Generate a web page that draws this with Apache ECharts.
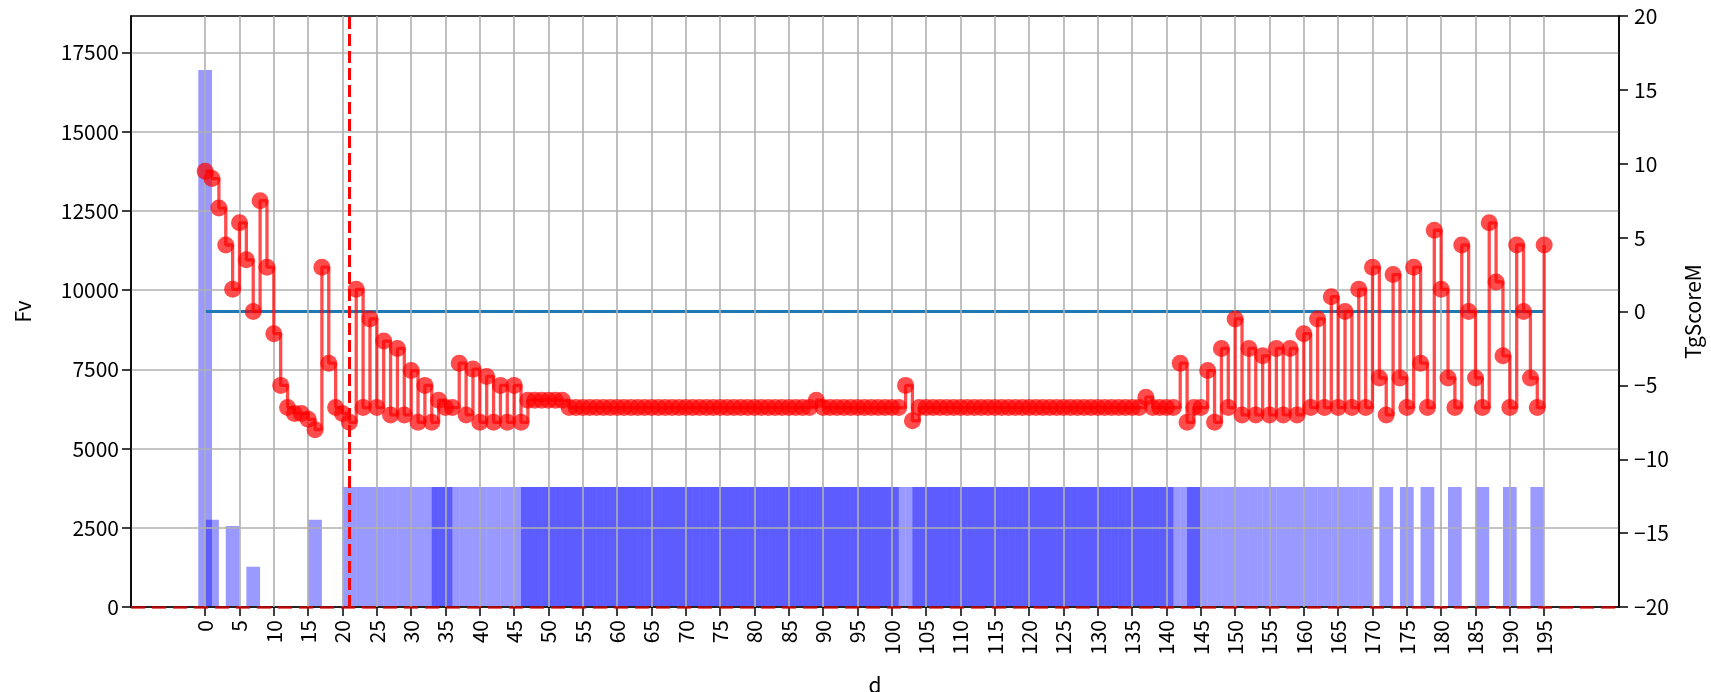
<!DOCTYPE html>
<html>
<head>
<meta charset="utf-8">
<script src="https://cdn.jsdelivr.net/npm/echarts@6/dist/echarts.min.js"></script>
<style>
  html, body { margin: 0; padding: 0; background: #fff; }
  #chart { width: 1711px; height: 692px; }
</style>
</head>
<body>
<div id="chart"></div>
<script>
/* -------------------------------------------------------------------------- */
/*                         Fv bars + TgScoreM step line                       */
/* -------------------------------------------------------------------------- */

// TgScoreM per day d (d = array index, 0..195)
const tgScore = [
  9.5, 9.0, 7.0, 4.5, 1.5, 6.0, 3.5, 0.0, 7.5, 3.0,
  -1.5, -5.0, -6.5, -6.9, -6.9, -7.3, -8.0, 3.0, -3.5, -6.5,
  -6.9, -7.5, 1.5, -6.5, -0.5, -6.5, -2.0, -7.0, -2.5, -7.0,
  -4.0, -7.5, -5.0, -7.5, -6.0, -6.5, -6.5, -3.5, -7.0, -3.9,
  -7.5, -4.4, -7.5, -5.0, -7.5, -5.0, -7.5, -6.0, -6.0, -6.0,
  -6.0, -6.0, -6.0, -6.5, -6.5, -6.5, -6.5, -6.5, -6.5, -6.5,
  -6.5, -6.5, -6.5, -6.5, -6.5, -6.5, -6.5, -6.5, -6.5, -6.5,
  -6.5, -6.5, -6.5, -6.5, -6.5, -6.5, -6.5, -6.5, -6.5, -6.5,
  -6.5, -6.5, -6.5, -6.5, -6.5, -6.5, -6.5, -6.5, -6.5, -6.0,
  -6.5, -6.5, -6.5, -6.5, -6.5, -6.5, -6.5, -6.5, -6.5, -6.5,
  -6.5, -6.5, -5.0, -7.4, -6.5, -6.5, -6.5, -6.5, -6.5, -6.5,
  -6.5, -6.5, -6.5, -6.5, -6.5, -6.5, -6.5, -6.5, -6.5, -6.5,
  -6.5, -6.5, -6.5, -6.5, -6.5, -6.5, -6.5, -6.5, -6.5, -6.5,
  -6.5, -6.5, -6.5, -6.5, -6.5, -6.5, -6.5, -5.8, -6.5, -6.5,
  -6.5, -6.5, -3.5, -7.5, -6.5, -6.5, -4.0, -7.5, -2.5, -6.5,
  -0.5, -7.0, -2.5, -7.0, -3.0, -7.0, -2.5, -7.0, -2.5, -7.0,
  -1.5, -6.5, -0.5, -6.5, 1.0, -6.5, 0.0, -6.5, 1.5, -6.5,
  3.0, -4.5, -7.0, 2.5, -4.5, -6.5, 3.0, -3.5, -6.5, 5.5,
  1.5, -4.5, -6.5, 4.5, 0.0, -4.5, -6.5, 6.0, 2.0, -3.0,
  -6.5, 4.5, 0.0, -4.5, -6.5, 4.5
];

// Fv bars: isolated ones with their own height
const spikeDays = [0, 1, 4, 7, 16];
const spikeFv = [16945, 2750, 2560, 1270, 2750];

// Fv bars of equal height in the long block
const blockDays = [
  21, 23, 25, 27, 29, 31, 33, 34, 35, 36, 38, 40, 42, 44,
  46, 47, 48, 49, 50, 51, 52, 53, 54, 55, 56, 57, 58, 59, 60, 61, 62, 63, 64, 65,
  66, 67, 68, 69, 70, 71, 72, 73, 74, 75, 76, 77, 78, 79, 80, 81, 82, 83, 84, 85,
  86, 87, 88, 89, 90, 91, 92, 93, 94, 95, 96, 97, 98, 99, 100, 101,
  103, 104, 105, 106, 107, 108, 109, 110, 111, 112, 113, 114, 115, 116, 117, 118,
  119, 120, 121, 122, 123, 124, 125, 126, 127, 128, 129, 130, 131, 132, 133, 134,
  135, 136, 137, 138, 139, 140, 141,
  143, 144, 145, 147, 149, 151, 153, 155, 157, 159, 161, 163, 165, 167, 169,
  172, 175, 178, 182, 186, 190, 194
];
const blockFv = 3790;

const markerDay = 21;
const xTicks = [
  0, 5, 10, 15, 20, 25, 30, 35, 40, 45, 50, 55, 60, 65, 70, 75, 80, 85, 90, 95,
  100, 105, 110, 115, 120, 125, 130, 135, 140, 145, 150, 155, 160, 165, 170, 175,
  180, 185, 190, 195
];
const fvTicks = [0, 2500, 5000, 7500, 10000, 12500, 15000, 17500];

const font = "'Noto Sans CJK JP', 'Noto Sans', sans-serif";
const gridColor = '#b0b0b0';
const barHalf = 1;

const barData = spikeDays
  .map((d, i) => [d, spikeFv[i]])
  .concat(blockDays.map(d => [d, blockFv]));
const scoreData = tgScore.map((v, d) => [d, v]);
const lastDay = tgScore.length - 1;

const chart = echarts.init(document.getElementById('chart'));

const tickLabel = {
  color: '#000',
  fontFamily: font,
  fontSize: 21
};

chart.setOption({
  animation: false,
  backgroundColor: '#fff',
  grid: {
    left: 131,
    right: 92,
    top: 16,
    bottom: 85,
    show: true,
    borderColor: '#000',
    borderWidth: 1.5,
    outerBoundsMode: 'none'
  },
  xAxis: {
    type: 'value',
    min: -10.8,
    max: 205.9,
    z: 4,
    name: 'd',
    nameLocation: 'middle',
    nameGap: 68,
    nameTextStyle: { color: '#000', fontFamily: font, fontSize: 21 },
    axisLine: { onZero: false, lineStyle: { color: '#000', width: 1.5 } },
    axisTick: { customValues: xTicks, length: 9, lineStyle: { color: '#000', width: 1.5 } },
    axisLabel: { ...tickLabel, customValues: xTicks, rotate: 90, margin: 13, formatter: v => String(v) },
    splitLine: { show: false }
  },
  yAxis: [
    {
      type: 'value',
      min: 0,
      max: 18650,
      interval: 2500,
      z: 2,
      name: 'Fv',
      nameLocation: 'middle',
      nameGap: 97,
      nameTextStyle: { color: '#000', fontFamily: font, fontSize: 21 },
      axisLine: { show: true, onZero: false, lineStyle: { color: '#000', width: 1.5 } },
      axisTick: { customValues: fvTicks, length: 9, lineStyle: { color: '#000', width: 1.5 } },
      axisLabel: { ...tickLabel, customValues: fvTicks, margin: 12, formatter: v => String(v) },
      splitLine: { show: true, lineStyle: { color: gridColor, width: 1.6 } }
    },
    {
      type: 'value',
      position: 'right',
      min: -20,
      max: 20,
      interval: 5,
      z: 2,
      name: 'TgScoreM',
      nameLocation: 'middle',
      nameGap: 64,
      nameTextStyle: { color: '#000', fontFamily: font, fontSize: 21 },
      axisLine: { show: true, onZero: false, lineStyle: { color: '#000', width: 1.5 } },
      axisTick: { length: 9, lineStyle: { color: '#000', width: 1.5 } },
      axisLabel: {
        ...tickLabel,
        margin: 15,
        formatter: v => String(v).replace('-', '\u2212')
      },
      splitLine: { show: false }
    }
  ],
  series: [
    {
      name: 'Fv',
      type: 'custom',
      z: 1,
      silent: true,
      encode: { x: 0, y: 1 },
      data: barData,
      renderItem: (params, api) => {
        const d = api.value(0);
        const h = api.value(1);
        const p0 = api.coord([d - barHalf, h]);
        const p1 = api.coord([d + barHalf, 0]);
        return {
          type: 'rect',
          shape: { x: p0[0], y: p0[1], width: p1[0] - p0[0], height: p1[1] - p0[1] },
          style: { fill: 'rgba(0, 0, 255, 0.4)' }
        };
      }
    },
    {
      // vertical grid lines at the x ticks only
      name: 'xgrid',
      type: 'line',
      z: 2,
      silent: true,
      data: [],
      markLine: {
        silent: true,
        symbol: 'none',
        label: { show: false },
        lineStyle: { color: gridColor, width: 1.6, type: 'solid' },
        data: xTicks.map(t => ({ xAxis: t }))
      }
    },
    {
      name: 'markers',
      type: 'line',
      z: 3,
      silent: true,
      data: [],
      markLine: {
        silent: true,
        symbol: 'none',
        label: { show: false },
        data: [
          { xAxis: markerDay, lineStyle: { color: 'red', width: 3, type: [12, 5] } },
          { yAxis: 0, lineStyle: { color: 'rgba(220,0,0,0.8)', width: 2.5, type: [14, 7] } }
        ]
      }
    },
    {
      name: 'zero',
      type: 'line',
      yAxisIndex: 1,
      z: 4,
      silent: true,
      showSymbol: false,
      data: [[0, 0], [lastDay, 0]],
      lineStyle: { color: '#1f77b4', width: 3 }
    },
    {
      name: 'TgScoreM',
      type: 'line',
      yAxisIndex: 1,
      z: 5,
      silent: true,
      step: 'end',
      data: scoreData,
      symbol: 'circle',
      symbolSize: 17,
      showSymbol: true,
      itemStyle: { color: 'red', opacity: 0.7, borderWidth: 0 },
      lineStyle: { color: 'red', width: 3.3, opacity: 0.7 }
    }
  ]
});
</script>
</body>
</html>
